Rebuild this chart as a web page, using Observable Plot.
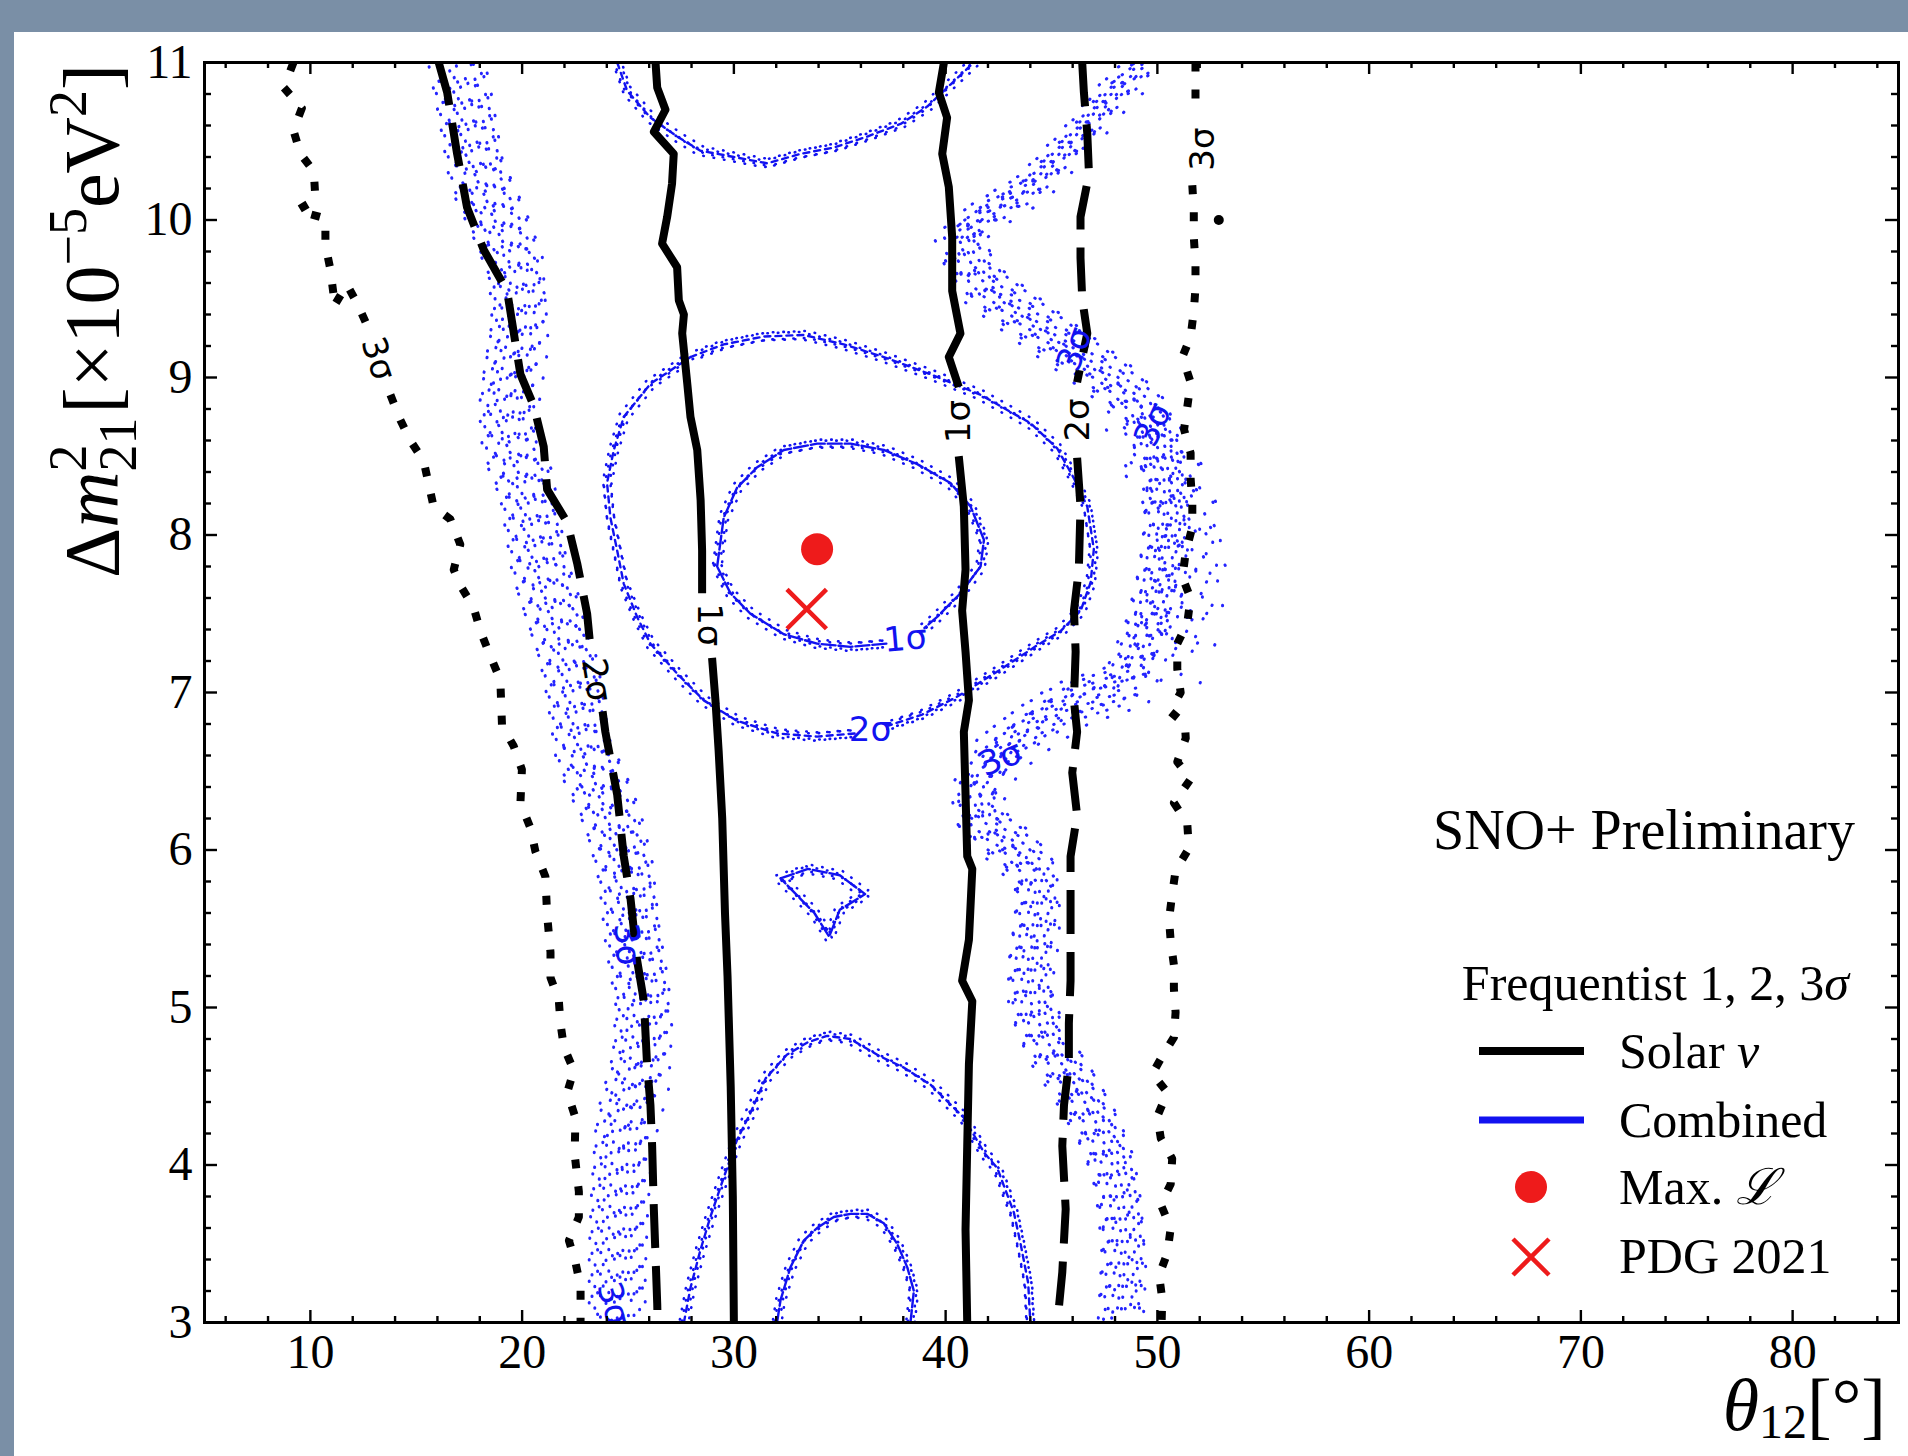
<!DOCTYPE html>
<html>
<head>
<meta charset="utf-8">
<script src="https://cdn.jsdelivr.net/npm/d3@7"></script>
<script src="https://cdn.jsdelivr.net/npm/@observablehq/plot@0.6"></script>
<style>
  html, body { margin:0; padding:0; }
  body { width:1908px; height:1456px; background:#7a8fa6; position:relative; overflow:hidden; }
  #panel { position:absolute; left:14px; top:32px; width:1894px; height:1424px; background:#fff; }
  #chart, #overlay { position:absolute; left:0; top:0; }
  #overlay { pointer-events:none; }
</style>
</head>
<body>
<div id="panel"></div>
<div id="chart"></div>
<svg id="overlay" width="1908" height="1456"></svg>
<script>
// ---------------- data (θ12 in degrees, Δm²21 in 1e-5 eV²) ----------------
const xMajorTicks = [10, 20, 30, 40, 50, 60, 70, 80];
const yMajorTicks = [3, 4, 5, 6, 7, 8, 9, 10, 11];

// Solar ν (black) contours; null = gap (label position)
const solar1Left = [[26.30,11.0],[26.38,10.84],[26.77,10.70],[26.22,10.56],[27.16,10.42],[27.08,10.23],[26.85,10.02],[26.61,9.85],[27.32,9.70],[27.40,9.49],[27.64,9.40],[27.56,9.28],[27.80,8.96],[27.95,8.75],[28.27,8.54],[28.43,8.22],[28.50,7.90],[28.50,7.63],null,[28.97,7.22],[29.13,6.95],[29.28,6.63],[29.45,6.20],[29.58,5.60],[29.70,5.20],[29.85,4.50],[29.95,3.80],[30.0,3.0]];
const solar1Right = [[39.92,11.0],[39.68,10.81],[40.07,10.65],[39.84,10.42],[40.15,10.21],[40.31,9.89],[40.31,9.55],[40.70,9.28],[40.15,9.13],[40.62,8.94],null,[40.62,8.50],[40.86,8.18],[40.94,7.78],[40.78,7.52],[40.94,7.26],[41.10,6.95],[40.86,6.75],[41.02,5.96],[41.26,5.88],[41.10,5.43],[40.78,5.17],[41.26,5.04],[41.10,4.64],[41.02,4.12],[40.94,3.59],[41.02,3.0]];
const solar2Left = [[16.06,11.0],[16.46,10.81],[16.93,10.42],[17.40,10.08],[18.19,9.81],[19.29,9.55],[19.61,9.28],[19.92,9.02],[20.55,8.82],[21.02,8.56],[21.18,8.29],[22.13,8.08],[22.60,7.82],[23.07,7.50],[23.20,7.32],null,[23.80,6.88],[23.93,6.75],[24.49,6.35],[24.80,5.96],[25.12,5.69],[25.43,5.30],[25.75,5.04],[25.90,4.64],[26.06,4.38],[26.14,4.12],[26.22,3.72],[26.38,3.12],[26.40,3.0]];
const solar2Right = [[46.45,11.0],[46.53,10.81],[46.69,10.55],[46.77,10.29],[46.37,10.02],[46.37,9.76],[46.45,9.50],[46.69,9.28],[46.21,8.97],null,[46.21,8.49],[46.37,8.18],[46.29,7.78],[46.06,7.52],[46.14,7.26],[46.06,6.95],[46.21,6.75],[45.98,6.49],[46.21,6.22],[45.90,5.96],[45.90,5.56],[45.90,5.17],[45.82,4.90],[45.82,4.64],[45.59,4.38],[45.51,4.12],[45.67,3.72],[45.51,3.32],[45.28,3.0]];
const solar3Left = [[9.20,11.0],[8.75,10.84],[9.60,10.71],[9.20,10.57],[9.53,10.42],[10.16,10.31],[10.24,10.13],[9.37,10.06],[10.71,10.01],[10.71,9.84],[10.94,9.69],[11.10,9.52],[11.10,9.45],[11.73,9.59],[12.21,9.47],[12.68,9.33],null,[13.78,8.89],[14.25,8.73],[14.72,8.60],[15.35,8.47],[15.82,8.18],[16.61,8.10],[17.08,7.94],[16.77,7.78],[17.08,7.68],[17.71,7.54],[18.03,7.39],[18.50,7.23],[18.97,7.08],[19.05,6.79],[19.60,6.66],[19.99,6.51],[19.92,6.30],[20.39,6.14],[20.63,5.99],[21.10,5.83],[21.18,5.59],[21.34,5.35],[21.34,5.19],[21.73,5.05],[21.81,4.90],[21.97,4.75],[22.44,4.60],[22.13,4.46],[22.52,4.30],[22.48,4.07],[22.68,3.83],[22.68,3.67],[22.21,3.52],[22.52,3.38],[22.76,3.23],[22.76,3.0]];
const solar3Right = [[51.80,11.0],[51.80,10.87],[51.80,10.69],null,[51.65,10.22],[51.72,10.06],[51.72,9.89],[51.80,9.73],[51.80,9.57],[51.72,9.42],[51.57,9.26],[51.18,9.13],[51.57,8.97],[51.41,8.81],[51.26,8.67],[51.57,8.52],[51.57,8.36],[51.65,8.20],[51.65,8.05],[51.34,7.89],[51.18,7.73],[51.57,7.60],[51.41,7.44],[50.94,7.31],[50.94,7.15],[51.10,7.0],[50.60,6.88],[51.30,6.80],[51.34,6.71],[50.94,6.56],[51.57,6.45],[50.78,6.30],[51.41,6.17],[51.49,6.01],[50.86,5.87],[50.70,5.72],[50.55,5.56],[50.63,5.42],[50.78,5.27],[50.78,5.12],[50.86,4.97],[50.78,4.81],[50.23,4.69],[49.76,4.58],[50.47,4.46],[50.0,4.31],[50.16,4.17],[50.70,4.04],[50.63,3.88],[50.16,3.75],[50.63,3.60],[50.47,3.44],[50.08,3.30],[50.23,3.15],[50.20,3.0]];
const solar3Island = [[52.90,10.0]];

// Combined (blue) contours
const comb1Ellipse = [[29.21,7.80],[29.52,8.11],[30.15,8.30],[31.10,8.43],[32.36,8.54],[33.93,8.58],[35.51,8.58],[37.08,8.54],[38.66,8.45],[40.23,8.33],[41.18,8.18],[41.81,7.97],[41.65,7.80],[40.70,7.63],[39.60,7.48],[39.00,7.41],null,[37.20,7.31],[35.51,7.29],[33.93,7.31],[32.36,7.37],[30.78,7.50],[29.84,7.63],[29.21,7.80]];
const comb1Bottom = [[32.04,3.0],[32.20,3.14],[32.67,3.35],[33.30,3.52],[33.93,3.60],[34.72,3.67],[35.51,3.69],[36.30,3.69],[37.08,3.63],[37.71,3.50],[38.19,3.35],[38.50,3.20],[38.34,3.0]];
const comb1Island = [[32.2,5.82],[33.5,5.88],[35.0,5.84],[36.2,5.72],[35.0,5.62],[34.5,5.45],[33.8,5.60],[32.2,5.82]];
const comb2Ellipse = [[27.95,9.13],[29.52,9.21],[31.41,9.26],[33.30,9.27],[35.19,9.21],[37.08,9.13],[39.29,9.02],[41.65,8.89],[44.01,8.71],[45.27,8.55],[46.06,8.36],[46.69,8.18],[47.0,7.91],[46.85,7.70],[46.38,7.52],[45.43,7.39],[44.33,7.30],[42.52,7.14],[40.50,6.97],[38.90,6.86],[37.30,6.79],null,[35.70,6.74],[33.93,6.72],[32.04,6.74],[30.15,6.82],[28.58,6.95],[27.32,7.12],[26.06,7.31],[25.43,7.48],[24.80,7.69],[24.49,7.90],[24.17,8.11],[24.01,8.33],[24.33,8.54],[24.80,8.75],[26.06,8.96],[27.95,9.13]];
const comb2Top = [[24.49,11.0],[24.96,10.82],[26.06,10.65],[27.32,10.53],[28.42,10.44],[30.0,10.40],[31.57,10.36],[33.15,10.42],[34.72,10.46],[36.30,10.53],[37.87,10.61],[39.13,10.72],[40.23,10.86],[41.33,11.0]];
const comb2Bottom = [[27.64,3.0],[27.95,3.22],[28.42,3.46],[28.89,3.67],[29.52,3.92],[30.15,4.16],[30.78,4.33],[31.5,4.55],[32.5,4.70],[33.5,4.78],[34.4,4.82],[35.5,4.80],[36.9,4.69],[38.0,4.62],[39.29,4.51],[40.86,4.30],[41.81,4.08],[42.44,3.98],[43.22,3.70],[43.54,3.50],[43.90,3.25],[44.0,3.0]];
const comb3Left = [[16.93,11.0],[17.40,10.68],[17.88,10.29],[18.97,9.97],[19.76,9.68],[19.92,9.36],[19.60,9.10],[19.29,8.84],[19.45,8.57],[20.24,8.31],[20.55,8.05],[20.86,7.78],[21.49,7.52],[22.13,7.26],[22.50,7.0],[22.91,6.62],[24.0,6.30],[24.49,6.10],[24.96,5.83],[25.27,5.43],[25.75,5.04],[25.59,4.64],[24.80,4.25],[24.60,3.85],[24.49,3.46],[24.49,3.0]];
const comb3RightUpper = [[49.5,11.0],[47.95,10.81],[46.37,10.55],[44.01,10.21],[41.65,10.02],[40.55,9.89]];
const comb3RightLower = [[40.55,9.89],[41.65,9.60],[43.22,9.44],[44.80,9.28],[46.37,9.13],[47.95,8.97],[49.52,8.76],[50.31,8.44],[50.47,8.18],[50.31,7.91],[49.99,7.65],[49.52,7.39],[48.5,7.05],[45.74,6.93],[44.0,6.78],[42.44,6.62],[41.33,6.35],[41.65,6.17],[43.22,6.01],[44.33,5.83],[44.33,5.56],[44.01,5.30],[44.01,5.04],[44.80,4.77],[46.06,4.51],[47.16,4.25],[47.95,3.98],[48.26,3.72],[48.42,3.46],[48.26,3.06],[48.20,3.0]];
const comb3RightFringe = [[49.2,8.7],[50.6,8.35],[51.6,8.0],[51.4,7.6],[50.4,7.25]];

// Contour labels (data coordinates)
const solarLabels = [
  {x:28.82, y:7.43, t:"1σ", r:90},
  {x:40.62, y:8.72, t:"1σ", r:-90},
  {x:23.50, y:7.08, t:"2σ", r:81},
  {x:46.25, y:8.73, t:"2σ", r:-90},
  {x:13.20, y:9.12, t:"3σ", r:72},
  {x:52.15, y:10.45, t:"3σ", r:-90}
];
const combinedLabels = [
  {x:38.10, y:7.34, t:"1σ", r:-5},
  {x:36.45, y:6.76, t:"2σ", r:0},
  {x:24.95, y:5.40, t:"3σ", r:85},
  {x:24.30, y:3.12, t:"3σ", r:75},
  {x:42.60, y:6.58, t:"3σ", r:-22},
  {x:46.10, y:9.18, t:"3σ", r:-70},
  {x:49.80, y:8.70, t:"3σ", r:-65}
];

// Best-fit points
const maxLikelihood = [{x:33.93, y:7.91}];
const pdg2021 = [{x:33.44, y:7.53}];

// ---------------- chart ----------------
const BLUE = "#1212f0", RED = "#ee1b1b", DOTBLUE = "#2424ff";
const IH = 1456 - 62 - 134, IW = 1908 - 204 - 10;
const toPts = a => a.map(p => p ? {x:p[0], y:p[1]} : {x:NaN, y:NaN});

// stipple look: copies of a dotted stroke, shifted by a fixed spread of pixel offsets (styling only)
const spread = [[-1.0,0.15,0],[-0.9,-0.6,7],[-0.8,0.8,13],[-0.7,-0.1,3],[-0.6,0.5,17],[-0.5,-0.9,9],[-0.4,0.2,1],[-0.3,-0.45,15],[-0.2,0.95,5],[-0.1,-0.25,11],[0.0,0.6,19],[0.1,-0.7,2],[0.2,0.1,8],[0.3,-0.95,14],[0.4,0.75,4],[0.5,-0.35,10],[0.6,0.4,16],[0.7,-0.8,6],[0.8,0.05,12],[0.9,-0.5,18],[1.0,0.9,0.5]];
const stipple = (a, half, gap) => spread.map(([u, v, o]) => Plot.line(toPts(a), {
  x:"x", y:"y", dx:u*half, dy:v*half, stroke:DOTBLUE, strokeWidth:3, strokeLinecap:"round",
  strokeDasharray:`0.5,${gap}`, strokeDashoffset:o, clip:true
}));
const fuzzSpread = [[-4,-3,0],[4,3,3],[-3,4,5],[3,-4,1.5]];
const fuzz = a => fuzzSpread.map(([u, v, o]) => Plot.line(toPts(a), {
  x:"x", y:"y", dx:u, dy:v, stroke:BLUE, strokeWidth:2.6, strokeLinecap:"round",
  strokeDasharray:"0.5,10", strokeDashoffset:o, clip:true
}));
const blueLine = (a, dash) => Plot.line(toPts(a), {x:"x", y:"y", stroke:BLUE, strokeWidth:2.4, strokeDasharray:dash, clip:true});
const blackLine = (a, dash) => Plot.line(toPts(a), {x:"x", y:"y", stroke:"#000", strokeWidth:8, strokeDasharray:dash, strokeLinecap:"butt", clip:true});

const xMinor = d3.range(6, 85, 2).filter(v => v % 10 !== 0);
const yMinor = d3.range(16, 55).map(v => v / 5).filter(v => Math.abs(v - Math.round(v)) > 1e-6);
const tk = {stroke:"#000", strokeWidth:2.4};

const plot = Plot.plot({
  width: 1908, height: 1456,
  marginLeft: 204, marginRight: 10, marginTop: 62, marginBottom: 134,
  x: {domain: [5, 85], ticks: xMajorTicks, tickSize: 0, tickPadding: 11, label: null, tickFormat: d => String(d)},
  y: {domain: [3, 11], ticks: yMajorTicks, tickSize: 0, tickPadding: 12, label: null, tickFormat: d => String(d)},
  style: {background: "transparent", fontFamily: "'Liberation Serif', serif", fontSize: "48px", color: "#000", overflow: "visible"},
  marks: [
    ...stipple(comb3Left, 28, 21),
    ...stipple(comb3RightUpper, 15, 26),
    ...stipple(comb3RightLower, 22, 22),
    ...stipple(comb3RightFringe, 34, 40),
    ...[comb1Ellipse, comb1Bottom, comb1Island, comb2Ellipse, comb2Top, comb2Bottom].flatMap(fuzz),
    ...[comb1Ellipse, comb1Bottom, comb1Island].map(a => blueLine(a, "14,3")),
    ...[comb2Ellipse, comb2Top, comb2Bottom].map(a => blueLine(a, "6,5")),
    blackLine(solar1Left, null), blackLine(solar1Right, null),
    blackLine(solar2Left, "44,18"), blackLine(solar2Right, "44,18"),
    blackLine(solar3Left, "9,18"), blackLine(solar3Right, "9,18"),
    Plot.dot(toPts(solar3Island), {x:"x", y:"y", r:5, fill:"#000"}),
    Plot.text(combinedLabels, {x:"x", y:"y", text:"t", rotate:"r", fontFamily:"DejaVu Sans", fontSize:34, fill:BLUE}),
    Plot.text(solarLabels, {x:"x", y:"y", text:"t", rotate:"r", fontFamily:"DejaVu Sans", fontSize:34, fill:"#000"}),
    Plot.dot(maxLikelihood, {x:"x", y:"y", r:16, fill:RED}),
    Plot.dot(pdg2021, {x:"x", y:"y", r:18, symbol:"times", stroke:RED, strokeWidth:4.5}),
    Plot.tickX(xMajorTicks, {x:d=>d, insetTop: IH - 12, ...tk}),
    Plot.tickX(xMajorTicks, {x:d=>d, insetBottom: IH - 12, ...tk}),
    Plot.tickX(xMinor, {x:d=>d, insetTop: IH - 6, ...tk}),
    Plot.tickX(xMinor, {x:d=>d, insetBottom: IH - 6, ...tk}),
    Plot.tickY(yMajorTicks, {y:d=>d, insetRight: IW - 13, ...tk}),
    Plot.tickY(yMajorTicks, {y:d=>d, insetLeft: IW - 13, ...tk}),
    Plot.tickY(yMinor, {y:d=>d, insetRight: IW - 7, ...tk}),
    Plot.tickY(yMinor, {y:d=>d, insetLeft: IW - 7, ...tk}),
    Plot.frame({stroke:"#000", strokeWidth:3})
  ]
});
document.getElementById("chart").appendChild(plot);

// ---------------- axis titles and legend ----------------
document.getElementById("overlay").innerHTML = `
<g font-family="'Liberation Serif', serif" fill="#000">
  <text transform="translate(118,321) rotate(-90)" text-anchor="middle" font-size="78">Δ<tspan font-style="italic">m</tspan><tspan font-size="54" dy="-32">2</tspan><tspan font-size="54" dx="-27" dy="50">21</tspan><tspan dx="4" dy="-18">[×10</tspan><tspan font-size="54" dy="-32">−5</tspan><tspan dy="32">eV</tspan><tspan font-size="54" dy="-32">2</tspan><tspan dy="32">]</tspan></text>
  <text x="1886" y="1430" text-anchor="end" font-size="74"><tspan font-style="italic">θ</tspan><tspan font-size="48" dy="8">12</tspan><tspan dy="-8">[°]</tspan></text>

  <text x="1855" y="849" text-anchor="end" font-size="56">SNO+ Preliminary</text>
  <text x="1849" y="1000" text-anchor="end" font-size="50">Frequentist 1, 2, 3<tspan font-style="italic">σ</tspan></text>
  <line x1="1479" x2="1584" y1="1051" y2="1051" stroke="#000" stroke-width="8"/>
  <text x="1619" y="1068" font-size="50">Solar <tspan font-style="italic">ν</tspan></text>
  <line x1="1479" x2="1584" y1="1120" y2="1120" stroke="${BLUE}" stroke-width="7"/>
  <text x="1619" y="1137" font-size="50">Combined</text>
  <circle cx="1531" cy="1187" r="16" fill="${RED}"/>
  <text x="1619" y="1204" font-size="50">Max. <tspan font-style="italic">ℒ</tspan></text>
  <path d="M1513,1239L1549,1275M1549,1239L1513,1275" stroke="${RED}" stroke-width="4.5"/>
  <text x="1619" y="1273" font-size="50">PDG 2021</text>
</g>`;
</script>
</body>
</html>
